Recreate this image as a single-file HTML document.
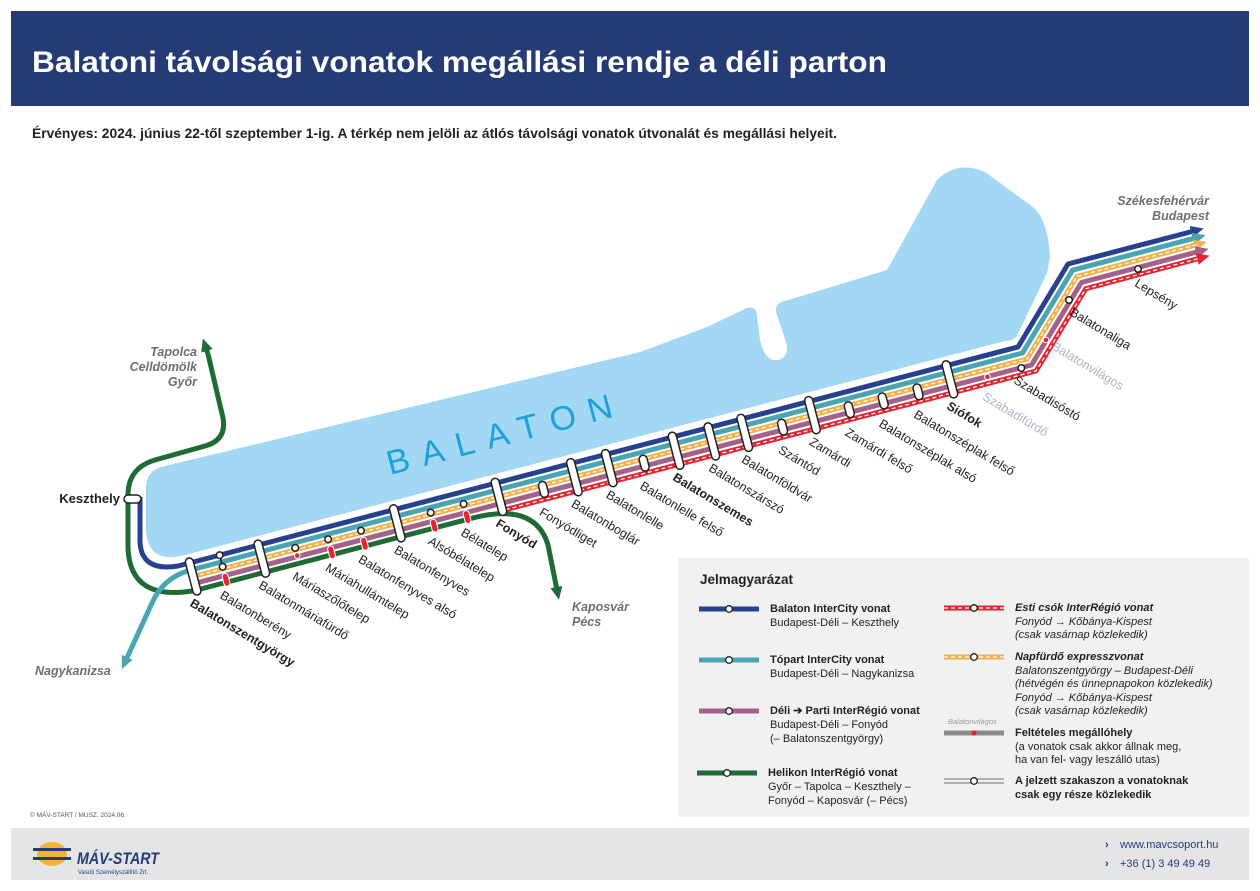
<!DOCTYPE html>
<html><head><meta charset="utf-8"><style>
html,body{margin:0;padding:0;background:#fff;}
svg{display:block;font-family:"Liberation Sans",sans-serif;}
</style></head><body>
<svg width="1260" height="891" viewBox="0 0 1260 891" xmlns="http://www.w3.org/2000/svg">
<defs>
<marker id="mb" markerUnits="userSpaceOnUse" markerWidth="14" markerHeight="14" refX="3" refY="6" orient="auto"><path d="M0,0 L13,6 L0,12z" fill="#27418f"/></marker>
<marker id="mt" markerUnits="userSpaceOnUse" markerWidth="14" markerHeight="14" refX="3" refY="6" orient="auto"><path d="M0,0 L13,6 L0,12z" fill="#4aa5b3"/></marker>
<marker id="mo" markerUnits="userSpaceOnUse" markerWidth="14" markerHeight="14" refX="3" refY="6" orient="auto"><path d="M0,0 L13,6 L0,12z" fill="#f6b04a"/></marker>
<marker id="mp" markerUnits="userSpaceOnUse" markerWidth="14" markerHeight="14" refX="3" refY="6" orient="auto"><path d="M0,0 L13,6 L0,12z" fill="#a4628a"/></marker>
<marker id="mr" markerUnits="userSpaceOnUse" markerWidth="14" markerHeight="14" refX="3" refY="6" orient="auto"><path d="M0,0 L13,6 L0,12z" fill="#e4252f"/></marker>
<marker id="mg" markerUnits="userSpaceOnUse" markerWidth="14" markerHeight="14" refX="3" refY="6" orient="auto"><path d="M0,0 L13,6 L0,12z" fill="#1f6b35"/></marker>
</defs>
<rect width="1260" height="891" fill="#fff"/>
<!-- header -->
<rect x="11" y="11" width="1238" height="95" fill="#253b76"/>
<text x="32" y="72" font-size="30" font-weight="bold" fill="#fff" textLength="855" lengthAdjust="spacingAndGlyphs">Balatoni távolsági vonatok megállási rendje a déli parton</text>
<text x="32" y="138" font-size="14" font-weight="bold" fill="#231f20" textLength="805" lengthAdjust="spacingAndGlyphs">Érvényes: 2024. június 22-től szeptember 1-ig. A térkép nem jelöli az átlós távolsági vonatok útvonalát és megállási helyeit.</text>

<!-- lake -->
<path d="M146,490 Q145,470 165,466 L640,352 L707,327 L747,308 Q757,306 757,316 L760,340 Q765,362 778,360 Q790,357 786,342 L776,312 Q775,303 785,301 L887,270 L937,180 Q957,160 985,172 L1033,207 Q1048,220 1050,257 L1047,273 L1017,336 Q1013,341 1005,341 L185,555 Q148,565 146,530 Z" fill="#a3d8f4"/>
<text transform="translate(390,475) rotate(-14.6)" font-size="34" fill="#1ba1dc" textLength="232" lengthAdjust="spacing">BALATON</text>

<!-- lines -->
<g fill="none" stroke-width="5" stroke-linejoin="round">
<path d="M208,354 L223,418 Q227,440 205,446 L155,460 Q128,468 128,495 L128,548 Q130,602 195,590.5 L470,518.7 Q535,501 548,545 L557,590" stroke="#1f6b35" marker-end="url(#mg)"/>
<path d="M208,354 L206,348" stroke="#1f6b35" marker-end="url(#mg)"/>
<path d="M189.5,570.3 Q163,578 152,603 L126,660" stroke="#4aa5b3" marker-end="url(#mt)"/>
<path d="M140,497 L140,540 Q140,572 178,566 L1018,347 L1068,264 L1194,231" stroke="#27418f" marker-end="url(#mb)"/>
<path d="M189.5,570.3 L1022.5,353 L1072.5,270.2 L1196,237.8" stroke="#4aa5b3" marker-end="url(#mt)"/>
<path d="M193,576.5 L1027,359 L1076.9,276.4 L1197,244.6" stroke="#f6b04a" marker-end="url(#mo)"/>
<path d="M193,576.5 L1027,359 L1076.9,276.4 L1197,244.6" stroke="#fff" stroke-width="1.3" stroke-dasharray="4 3"/>
<path d="M195,583.3 L1031.5,365 L1081.4,282.5 L1199,251.4" stroke="#a4628a" marker-end="url(#mp)"/>
<path d="M505.7,509.6 L1036,371 L1085.8,288.7 L1200,258.2" stroke="#e4252f" marker-end="url(#mr)"/>
<path d="M505.7,509.6 L1036,371 L1085.8,288.7 L1200,258.2" stroke="#fff" stroke-width="1.3" stroke-dasharray="4 3"/>
</g>
<rect x="124" y="495" width="17" height="8" rx="4" fill="#fff" stroke="#231f20" stroke-width="1.5"/>
<text x="120" y="503" font-size="13" font-weight="bold" text-anchor="end" fill="#231f20">Keszthely</text>

<!-- stations in local frame -->
<g transform="translate(178,566) rotate(-14.6)">
<g fill="#fff" stroke="#231f20" stroke-width="1.5">
<rect x="8" y="-5" width="8" height="38" rx="4"/>
<rect x="79" y="-5" width="8" height="38" rx="4"/>
<rect x="219" y="-5" width="8" height="38" rx="4"/>
<rect x="324" y="-5" width="8" height="38" rx="4"/>
<rect x="402" y="-5" width="8" height="38" rx="4"/>
<rect x="438" y="-5" width="8" height="38" rx="4"/>
<rect x="507" y="-5" width="8" height="38" rx="4"/>
<rect x="544" y="-5" width="8" height="38" rx="4"/>
<rect x="578" y="-5" width="8" height="38" rx="4"/>
<rect x="648" y="-5" width="8" height="38" rx="4"/>
<rect x="790" y="-5" width="8" height="38" rx="4"/>
<rect x="369" y="10" width="8" height="16" rx="4"/>
<rect x="473" y="10" width="8" height="16" rx="4"/>
<rect x="616" y="10" width="8" height="16" rx="4"/>
<rect x="685" y="10" width="8" height="16" rx="4"/>
<rect x="720" y="10" width="8" height="16" rx="4"/>
<rect x="756" y="10" width="8" height="16" rx="4"/>
<line x1="43" y1="0" x2="43" y2="12"/>
<circle cx="43" cy="0" r="3.3"/><circle cx="43" cy="12" r="3.3"/>
<circle cx="118" cy="12" r="3.3"/><circle cx="152" cy="12" r="3.3"/><circle cx="186" cy="12" r="3.3"/>
<circle cx="258" cy="12" r="3.3"/><circle cx="292" cy="12" r="3.3"/>
<circle cx="866" cy="21" r="3.3"/>
</g>
<g fill="#e4252f" stroke="#fff" stroke-width="1">
<rect x="40" y="19" width="6" height="13" rx="3"/>
<circle cx="118" cy="20" r="2.8"/>
<rect x="149" y="19" width="6" height="13" rx="3"/>
<rect x="183" y="19" width="6" height="13" rx="3"/>
<rect x="255" y="19" width="6" height="13" rx="3"/>
<rect x="289" y="19" width="6" height="13" rx="3"/>
<circle cx="831" cy="21" r="2.8"/>
</g>
<g font-size="12.5" fill="#231f20">
<text transform="translate(8,34) rotate(45.6)" y="10" font-weight="bold">Balatonszentgyörgy</text>
<text transform="translate(39,34) rotate(45.6)" y="10">Balatonberény</text>
<text transform="translate(79,34) rotate(45.6)" y="10">Balatonmáriafürdő</text>
<text transform="translate(114,34) rotate(45.6)" y="10">Máriaszőlőtelep</text>
<text transform="translate(148,34) rotate(45.6)" y="10">Máriahullámtelep</text>
<text transform="translate(182,34) rotate(45.6)" y="10">Balatonfenyves alsó</text>
<text transform="translate(219,34) rotate(45.6)" y="10">Balatonfenyves</text>
<text transform="translate(254,34) rotate(45.6)" y="10">Alsóbélatelep</text>
<text transform="translate(288,34) rotate(45.6)" y="10">Bélatelep</text>
<text transform="translate(324,34) rotate(45.6)" y="10" font-weight="bold">Fonyód</text>
<text transform="translate(369,34) rotate(45.6)" y="10">Fonyódliget</text>
<text transform="translate(402,34) rotate(45.6)" y="10">Balatonboglár</text>
<text transform="translate(438,34) rotate(45.6)" y="10">Balatonlelle</text>
<text transform="translate(473,34) rotate(45.6)" y="10">Balatonlelle felső</text>
<text transform="translate(507,34) rotate(45.6)" y="10" font-weight="bold">Balatonszemes</text>
<text transform="translate(544,34) rotate(45.6)" y="10">Balatonszárszó</text>
<text transform="translate(578,34) rotate(45.6)" y="10">Balatonföldvár</text>
<text transform="translate(616,34) rotate(45.6)" y="10">Szántód</text>
<text transform="translate(648,34) rotate(45.6)" y="10">Zamárdi</text>
<text transform="translate(685,34) rotate(45.6)" y="10">Zamárdi felső</text>
<text transform="translate(720,34) rotate(45.6)" y="10">Balatonszéplak alsó</text>
<text transform="translate(756,34) rotate(45.6)" y="10">Balatonszéplak felső</text>
<text transform="translate(790,34) rotate(45.6)" y="10" font-weight="bold">Siófok</text>
<text transform="translate(827,34) rotate(45.6)" y="10" fill="#a9b6c6">Szabadifürdő</text>
</g>
</g>
<!-- steep section stations -->
<circle cx="1046" cy="340" r="2.8" fill="#e4252f" stroke="#fff"/>
<circle cx="1069" cy="300" r="3.3" fill="#fff" stroke="#231f20" stroke-width="1.5"/>
<circle cx="1138" cy="269" r="3.3" fill="#fff" stroke="#231f20" stroke-width="1.5"/>
<g font-size="12.5" fill="#231f20">
<text transform="translate(1018,374) rotate(31)" y="10">Szabadisóstó</text>
<text transform="translate(1056,340) rotate(31)" y="10" fill="#a9b6c6">Balatonvilágos</text>
<text transform="translate(1074,306) rotate(31)" y="10">Balatonaliga</text>
<text transform="translate(1139,277) rotate(31)" y="10">Lepsény</text>
</g>
<!-- destination labels -->
<g font-size="12.5" font-weight="bold" font-style="italic" fill="#6d6e71">
<text x="197" y="356" text-anchor="end">Tapolca</text>
<text x="197" y="371" text-anchor="end">Celldömölk</text>
<text x="197" y="386" text-anchor="end">Győr</text>
<text x="1209" y="205" text-anchor="end">Székesfehérvár</text>
<text x="1209" y="220" text-anchor="end">Budapest</text>
<text x="572" y="611">Kaposvár</text>
<text x="572" y="626">Pécs</text>
<text x="35" y="675">Nagykanizsa</text>
</g>

<!-- legend -->
<rect x="678" y="558" width="571" height="259" fill="#f1f1f1"/>
<text x="700" y="584" font-size="13.5" font-weight="bold" fill="#231f20">Jelmagyarázat</text>
<g stroke-width="5">
<line x1="699" y1="609" x2="759" y2="609" stroke="#27418f"/>
<line x1="699" y1="660" x2="759" y2="660" stroke="#4aa5b3"/>
<line x1="699" y1="711" x2="759" y2="711" stroke="#a4628a"/>
<line x1="697" y1="773" x2="757" y2="773" stroke="#1f6b35"/>
<line x1="944" y1="608" x2="1004" y2="608" stroke="#e4252f"/>
<line x1="944" y1="608" x2="1004" y2="608" stroke="#fff" stroke-width="1.3" stroke-dasharray="4 3"/>
<line x1="944" y1="657" x2="1004" y2="657" stroke="#f6b04a"/>
<line x1="944" y1="657" x2="1004" y2="657" stroke="#fff" stroke-width="1.3" stroke-dasharray="4 3"/>
<line x1="944" y1="733" x2="1004" y2="733" stroke="#8a8a8a"/>
<line x1="944" y1="779" x2="1004" y2="779" stroke="#9a9a9a" stroke-width="1.5"/>
<line x1="944" y1="783" x2="1004" y2="783" stroke="#9a9a9a" stroke-width="1.5"/>
</g>
<g fill="#fff" stroke="#231f20" stroke-width="1.3">
<circle cx="729" cy="609" r="3.3"/><circle cx="729" cy="660" r="3.3"/><circle cx="729" cy="711" r="3.3"/><circle cx="727" cy="773" r="3.3"/>
<circle cx="974" cy="608" r="3.3"/><circle cx="974" cy="657" r="3.3"/><circle cx="974" cy="781" r="3.3"/>
</g>
<circle cx="974" cy="733" r="2.6" fill="#e4252f"/>
<text x="948" y="724" font-size="7.5" font-style="italic" fill="#9a9a9a">Balatonvilágos</text>
<g font-size="11" fill="#231f20">
<text x="770" y="612" font-weight="bold">Balaton InterCity vonat</text>
<text x="770" y="626">Budapest-Déli – Keszthely</text>
<text x="770" y="663" font-weight="bold">Tópart InterCity vonat</text>
<text x="770" y="677">Budapest-Déli – Nagykanizsa</text>
<text x="770" y="714" font-weight="bold">Déli ➔ Parti InterRégió vonat</text>
<text x="770" y="728">Budapest-Déli – Fonyód</text>
<text x="770" y="742">(– Balatonszentgyörgy)</text>
<text x="768" y="776" font-weight="bold">Helikon InterRégió vonat</text>
<text x="768" y="790">Győr – Tapolca – Keszthely –</text>
<text x="768" y="804">Fonyód – Kaposvár (– Pécs)</text>
<g font-style="italic">
<text x="1015" y="611" font-weight="bold">Esti csók InterRégió vonat</text>
<text x="1015" y="625">Fonyód → Kőbánya-Kispest</text>
<text x="1015" y="638">(csak vasárnap közlekedik)</text>
<text x="1015" y="660" font-weight="bold">Napfürdő expresszvonat</text>
<text x="1015" y="674">Balatonszentgyörgy – Budapest-Déli</text>
<text x="1015" y="687">(hétvégén és ünnepnapokon közlekedik)</text>
<text x="1015" y="701">Fonyód → Kőbánya-Kispest</text>
<text x="1015" y="714">(csak vasárnap közlekedik)</text>
</g>
<text x="1015" y="736" font-weight="bold">Feltételes megállóhely</text>
<text x="1015" y="750">(a vonatok csak akkor állnak meg,</text>
<text x="1015" y="763">ha van fel- vagy leszálló utas)</text>
<text x="1015" y="784" font-weight="bold">A jelzett szakaszon a vonatoknak</text>
<text x="1015" y="798" font-weight="bold">csak egy része közlekedik</text>
</g>
<text x="30" y="817" font-size="6.5" fill="#555">© MÁV-START / MUSZ. 2024.06.</text>

<!-- footer -->
<rect x="11" y="828" width="1238" height="52" fill="#e3e5e7"/>
<g>
<ellipse cx="52" cy="854" rx="15" ry="12" fill="#f2b632"/>
<rect x="33" y="848" width="38" height="3" fill="#253b76"/>
<rect x="33" y="857" width="38" height="3" fill="#253b76"/>
<text x="77" y="864" font-size="17" font-weight="bold" font-style="italic" fill="#253b76" textLength="82" lengthAdjust="spacingAndGlyphs">MÁV-START</text>
<text x="78" y="874" font-size="6" fill="#253b76">Vasúti Személyszállító Zrt.</text>
</g>
<g font-size="11" fill="#253b76">
<text x="1105" y="848" font-weight="bold">›</text>
<text x="1120" y="848">www.mavcsoport.hu</text>
<text x="1105" y="867" font-weight="bold">›</text>
<text x="1120" y="867">+36 (1) 3 49 49 49</text>
</g>
</svg>
</body></html>
